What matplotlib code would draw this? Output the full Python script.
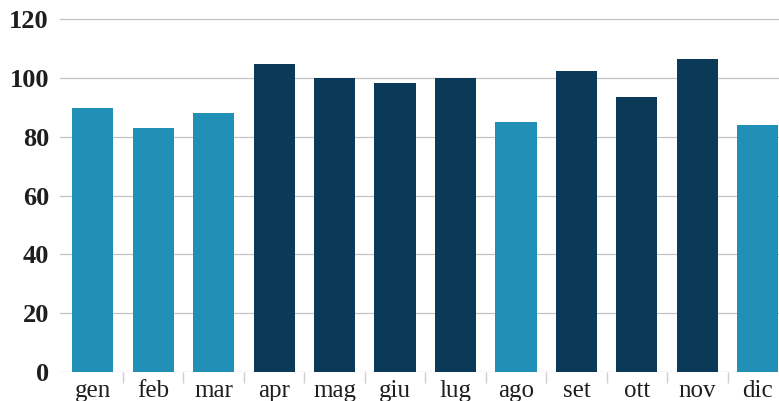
import matplotlib.pyplot as plt
import numpy as np

mesi = ["gen", "feb", "mar", "apr", "mag", "giu", "lug", "ago", "set", "ott", "nov", "dic"]
valori = [90.0, 83.0, 88.3, 104.8, 100.0, 98.5, 100.0, 85.1, 102.6, 93.5, 106.4, 84.0]
scuri = [False, False, False, True, True, True, True, False, True, True, True, False]
y_ticks = [0, 20, 40, 60, 80, 100, 120]

chiaro = "#2190b7"
scuro = "#0b3a58"
colori = [scuro if s else chiaro for s in scuri]

fig = plt.figure(figsize=(7.79, 4.01), dpi=100)
ax = fig.add_axes([60 / 779, 29 / 401, 1 - 60 / 779, 1 - 29 / 401])

x = np.arange(len(mesi))
ax.bar(x, valori, width=0.68, color=colori, zorder=3)

ax.set_ylim(0, 126.6)
ax.set_xlim(-0.54, 11.35)
ax.set_yticks(y_ticks)
ax.set_yticklabels([str(v) for v in y_ticks], fontfamily="Liberation Serif",
                   fontweight="bold", fontsize=19, color="#1e1e1e")
ax.grid(True, axis="y", color="#c4c4c4", linewidth=0.9, zorder=0)
ax.tick_params(axis="y", length=0, pad=8)

ax.set_xticks(x)
ax.set_xticklabels(mesi, fontfamily="Liberation Serif", fontsize=18, color="#1e1e1e")
ax.set_xticks(x[:-1] + 0.5, minor=True)
ax.tick_params(axis="x", which="major", length=0, pad=6)
ax.tick_params(axis="x", which="minor", length=8, color="#cfcfcf", width=1)

for s in ax.spines.values():
    s.set_visible(False)

fig.savefig("out.png", dpi=100)
